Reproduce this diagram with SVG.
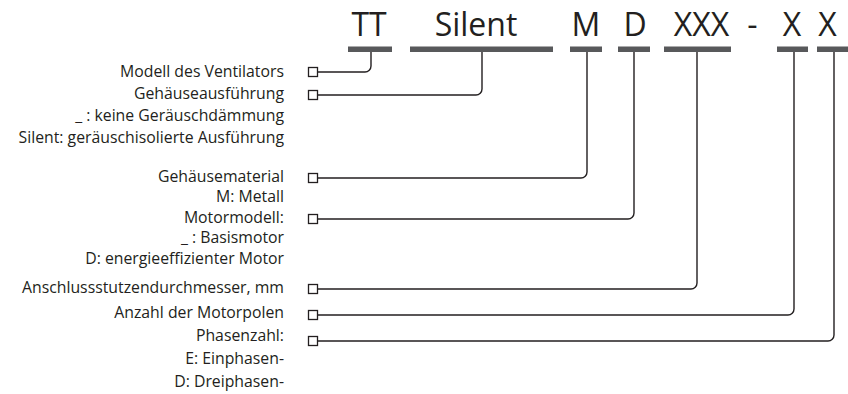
<svg xmlns="http://www.w3.org/2000/svg" width="848" height="394" viewBox="0 0 848 394">
<style>
.code{font-family:"Open Sans","Liberation Sans",sans-serif;font-size:32px;fill:#231f20;text-anchor:middle}
.lbl{font-family:"Open Sans","Liberation Sans",sans-serif;font-size:15.8px;fill:#231f20;text-anchor:end}
.bar{fill:#58595b}
.ln{fill:none;stroke:#231f20;stroke-width:1.4}
.box{fill:#fff;stroke:#231f20;stroke-width:1.3}
</style>
<rect width="848" height="394" fill="#fff"/>
<g id="code">
<text class="code" x="369" y="36">TT</text>
<text class="code" x="476" y="36">Silent</text>
<text class="code" x="586" y="36">M</text>
<text class="code" x="635" y="36">D</text>
<text class="code" x="701.5" y="36">XXX</text>
<text class="code" x="752.5" y="36">-</text>
<text class="code" x="792" y="36">X</text>
<text class="code" x="827.5" y="36">X</text>
<rect class="bar" x="348" y="46.5" width="44" height="5.5"/>
<rect class="bar" x="410" y="46.5" width="143" height="5.5"/>
<rect class="bar" x="570" y="46.5" width="32" height="5.5"/>
<rect class="bar" x="618" y="46.5" width="32" height="5.5"/>
<rect class="bar" x="664" y="46.5" width="67" height="5.5"/>
<rect class="bar" x="777" y="46.5" width="31" height="5.5"/>
<rect class="bar" x="817" y="46.5" width="34" height="5.5"/>
</g>
<g id="connectors">
<path class="ln" d="M317.5 72 H365 A6 6 0 0 0 371 66 V52"/>
<path class="ln" d="M317.5 95 H476 A6 6 0 0 0 482 89 V52"/>
<path class="ln" d="M317.5 178 H581 A6 6 0 0 0 587 172 V52"/>
<path class="ln" d="M317.5 219 H628 A6 6 0 0 0 634 213 V52"/>
<path class="ln" d="M317.5 289 H691 A6 6 0 0 0 697 283 V52"/>
<path class="ln" d="M317.5 315 H788 A6 6 0 0 0 794 309 V52"/>
<path class="ln" d="M317.5 341 H828 A6 6 0 0 0 834 335 V52"/>
</g>
<g id="n1"><rect class="box" x="308.5" y="67.5" width="9" height="9"/>
<text class="lbl" x="284" y="77">Modell des Ventilators</text></g>
<g id="n2"><rect class="box" x="308.5" y="90.5" width="9" height="9"/>
<text class="lbl" x="284" y="99">Gehäuseausführung</text>
<text class="lbl" x="284" y="121">_ : keine Geräuschdämmung</text>
<text class="lbl" x="284" y="143">Silent: geräuschisolierte Ausführung</text></g>
<g id="n3"><rect class="box" x="308.5" y="173.5" width="9" height="9"/>
<text class="lbl" x="284" y="181.5">Gehäusematerial</text>
<text class="lbl" x="284" y="202">M: Metall</text></g>
<g id="n4"><rect class="box" x="308.5" y="214.5" width="9" height="9"/>
<text class="lbl" x="284" y="222.5">Motormodell:</text>
<text class="lbl" x="284" y="243">_ : Basismotor</text>
<text class="lbl" x="284" y="263.5">D: energieeffizienter Motor</text></g>
<g id="n5"><rect class="box" x="308.5" y="284.5" width="9" height="9"/>
<text class="lbl" x="284" y="293">Anschlussstutzendurchmesser, mm</text></g>
<g id="n6"><rect class="box" x="308.5" y="310.5" width="9" height="9"/>
<text class="lbl" x="284" y="318">Anzahl der Motorpolen</text></g>
<g id="n7"><rect class="box" x="308.5" y="336.5" width="9" height="9"/>
<text class="lbl" x="284" y="341">Phasenzahl:</text>
<text class="lbl" x="284" y="364">E: Einphasen-</text>
<text class="lbl" x="284" y="387">D: Dreiphasen-</text></g>
</svg>
